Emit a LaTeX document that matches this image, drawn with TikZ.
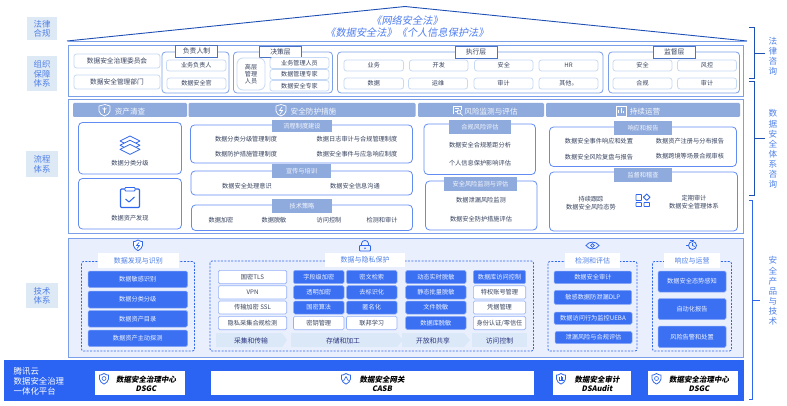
\documentclass[tikz,border=0pt]{standalone}
\usepackage{fontspec}
\setmainfont{Noto Sans CJK SC}
\newfontfamily\slantcjk[FakeSlant=0.18]{Noto Sans CJK SC}
\definecolor{frameblue}{HTML}{7C9FEA}
\definecolor{inkblue}{HTML}{2F66EE}
\definecolor{deepblue}{HTML}{1E50B4}
\definecolor{bandblue}{HTML}{2B63F2}
\definecolor{headblue}{HTML}{8FAADD}
\definecolor{labelbg}{HTML}{DEE9F6}
\definecolor{labelink}{HTML}{4F80E6}
\definecolor{tagedge}{HTML}{C6D9F5}
\definecolor{bodyink}{HTML}{36425E}
\definecolor{techbg}{HTML}{E9EFFD}
\definecolor{btnblue}{HTML}{3C70F3}
\definecolor{hazeblue}{HTML}{DBE8F8}
\newcommand{\fs}[1]{\fontsize{#1}{#1}\selectfont}
\tikzset{
  sidelabel/.style={fill=labelbg,draw=none},
  sidetxt/.style={text=labelink,font=\fs{8.4},align=center,inner sep=0pt,text depth=0pt},
  frame/.style={draw=frameblue,line width=.9pt},
  tagbox/.style={draw=tagedge,line width=.8pt,fill=white,rounded corners=2.5pt},
  tagtxt/.style={text=bodyink,font=\fs{6.1},align=center,inner sep=0pt},
  bigtagtxt/.style={text=bodyink,font=\fs{6.7},align=center,inner sep=0pt},
  groupbox/.style={draw=frameblue,line width=.8pt,fill=white,rounded corners=3.5pt},
  titlebox/.style={draw=deepblue!80!white,line width=.9pt,fill=white},
  titletxt/.style={text=bodyink,font=\fs{6.8},inner sep=0pt},
  headbar/.style={fill=headblue,draw=none,rounded corners=1.2pt},
  headtxt/.style={text=white!92!headblue,font=\fs{7.6},inner sep=0pt},
  subhead/.style={fill=headblue,draw=none},
  subtxt/.style={text=white!92!headblue,font=\fs{6.2},inner sep=0pt},
  roundpanel/.style={draw=inkblue!75!white,line width=.8pt,fill=white,rounded corners=4pt},
  dashpanel/.style={draw=inkblue,line width=.8pt,dash pattern=on 2pt off 1.4pt,rounded corners=2pt},
  whitetitle/.style={fill=white,draw=none},
  paneltitle/.style={text=labelink,font=\fs{7},inner sep=0pt},
  bluebtn/.style={fill=btnblue,draw=btnblue!60!white,line width=.5pt,rounded corners=1.5pt},
  btntxt/.style={text=white!92!btnblue,font=\fs{6.2},inner sep=0pt},
  whitebtn/.style={fill=white,draw=btnblue!55!white,line width=.6pt,rounded corners=1.5pt},
  whitebtntxt/.style={text=bodyink,font=\fs{6.2},inner sep=0pt},
  haze/.style={fill=hazeblue,draw=none},
  hazetxt/.style={text=bodyink!80!blue,font=\fs{6.8},inner sep=0pt},
  productbox/.style={fill=white,draw=none},
  producttxt/.style={text=black,font=\slantcjk\bfseries\fs{7.5},align=center,inner sep=0pt},
  brace/.style={draw=deepblue,line width=.9pt},
  plainline/.style={text=bodyink,font=\fs{6.2},align=center,inner sep=0pt},
  iconline/.style={draw=inkblue,line width=.8pt,line join=round,fill=none},
}
% box with centred caption: box style, text style, x1, y1, x2, y2, caption
\newcommand{\bx}[7]{\path[#1] (#3,#4) rectangle (#5,#6);
  \node[#2] at ({(#3+#5)/2},{(#4+#6)/2}) {#7};}
% shield outline at a position with a given half width
\newcommand{\shield}[4][inkblue]{\draw[draw=#1,line width=.8pt,fill=white,line join=round]
  (#2,#3-#4*1.1) .. controls (#2+#4*.5,#3-#4*.75) and (#2+#4*.8,#3-#4*.8) .. (#2+#4,#3-#4*.75)
  -- (#2+#4,#3+#4*.1) .. controls (#2+#4,#3+#4*.7) and (#2+#4*.4,#3+#4) .. (#2,#3+#4*1.25)
  .. controls (#2-#4*.4,#3+#4) and (#2-#4,#3+#4*.7) .. (#2-#4,#3+#4*.1)
  -- (#2-#4,#3-#4*.75) .. controls (#2-#4*.8,#3-#4*.8) and (#2-#4*.5,#3-#4*.75) .. cycle;}
\begin{document}
\begin{tikzpicture}[x=1pt,y=-1pt]
\useasboundingbox (0,0) rectangle (787,406);

% legal basis: the roof and its two lines of statute titles
\draw[deepblue,line width=.9pt] (67,41) -- (405,6.5) -- (747,41);
\draw[frameblue,line width=.9pt] (68,41) -- (747,41);
\node[text=inkblue!85!white,font=\slantcjk\fs{10.2},inner sep=0pt] (lawa) at (407,20.5) {《网络安全法》};
\node[text=inkblue!85!white,font=\slantcjk\fs{10.2},inner sep=0pt] (lawb) at (407,32.5) {《数据安全法》《个人信息保护法》};

% row captions on the left
\bx{sidelabel}{sidetxt}{27}{17}{57}{40}{法律\\[1pt]合规}
\bx{sidelabel}{sidetxt}{27}{56}{57}{91}{组织\\[1pt]保障\\[1pt]体系}
\bx{sidelabel}{sidetxt}{26}{151}{58}{177}{流程\\[1pt]体系}
\bx{sidelabel}{sidetxt}{26}{283}{58}{308}{技术\\[1pt]体系}

% main frames
\path[frame,fill=white] (68.5,45.7) rectangle (743.5,96);
\path[frame,fill=white] (68.5,99.3) rectangle (743.5,233.5);
\path[frame,fill=techbg] (68.5,238) rectangle (743.5,357);

% organisation row
\bx{tagbox}{bigtagtxt}{74}{54}{160}{68}{数据安全治理委员会}
\bx{tagbox}{bigtagtxt}{74}{75}{160}{89}{数据安全管理部门}

\path[groupbox] (162,52) rectangle (229,93);
\bx{titlebox}{titletxt}{175.5}{45.5}{217.5}{57}{负责人制}
\bx{tagbox}{tagtxt}{166.5}{60}{226}{71}{业务负责人}
\bx{tagbox}{tagtxt}{167}{78}{226}{89}{数据安全官}

\path[groupbox] (233.5,52) rectangle (332.5,93);
\bx{titlebox}{titletxt}{259.5}{46}{301.5}{57.5}{决策层}
\path[tagbox,rounded corners=6pt] (237,58) rectangle (265,90);
\node[tagtxt] (seniors) at (251,74) {高层\\[1pt]管理\\[1pt]人员};
\bx{tagbox}{tagtxt}{270}{57.5}{329}{68.5}{业务管理人员}
\bx{tagbox}{tagtxt}{270}{69.5}{329}{79.5}{数据管理专家}
\bx{tagbox}{tagtxt}{270}{80.5}{329}{91}{数据安全专家}

\path[groupbox] (337.5,52) rectangle (603,93);
\bx{titlebox}{titletxt}{455}{46}{497}{58}{执行层}
\bx{tagbox}{tagtxt}{344}{60}{403.5}{71}{业务}
\bx{tagbox}{tagtxt}{409.5}{60}{468}{71}{开发}
\bx{tagbox}{tagtxt}{474.5}{60}{533}{71}{安全}
\bx{tagbox}{tagtxt}{539}{60}{598}{71}{HR}
\bx{tagbox}{tagtxt}{344}{78}{403.5}{89}{数据}
\bx{tagbox}{tagtxt}{408.5}{78}{467.5}{89}{运维}
\bx{tagbox}{tagtxt}{474}{78}{533}{89}{审计}
\bx{tagbox}{tagtxt}{539}{78}{598}{89}{其他。}

\path[groupbox] (608.5,52) rectangle (739.5,93);
\bx{titlebox}{titletxt}{653.5}{46}{695}{58}{监督层}
\bx{tagbox}{tagtxt}{613}{60}{672}{71}{安全}
\bx{tagbox}{tagtxt}{677.5}{60}{736.5}{71}{风控}
\bx{tagbox}{tagtxt}{613}{78}{672}{89}{合规}
\bx{tagbox}{tagtxt}{677.5}{78}{736.5}{89}{审计}

% process row: header bars
\path[headbar] (73,103) rectangle (187,117);
\node[headtxt] (hasset) at (130,112) {资产清查};
\path[headbar] (188.5,103) rectangle (415.5,117);
\node[headtxt] (hprotect) at (313.5,112) {安全防护措施};
\path[headbar] (418,103) rectangle (544,117);
\node[headtxt] (hrisk) at (491,112) {风险监测与评估};
\path[headbar] (546,103) rectangle (740,117);
\node[headtxt] (hops) at (645,112) {持续运营};

% small white marks inside the header bars
\begin{scope}[line width=.7pt]
\path[draw=white,fill=none,line join=round] (99,106) -- (105,104.5) -- (110,106) -- (110,111) .. controls (110,113.5) and (107,115) .. (104.5,116) .. controls (102,115) and (99,113.5) .. (99,111) -- cycle;
\draw[white] (104.5,107.5) -- (104.5,113) (102.5,108) -- (104.5,110) -- (106.5,108);
\path[draw=white,fill=none,line join=round] (276,106) -- (281,104.5) -- (286,106) -- (286,111) .. controls (286,113.5) and (283.5,115) .. (281,116) .. controls (278.5,115) and (276,113.5) .. (276,111) -- cycle;
\draw[white] (282,107) -- (279.5,110.5) -- (282.5,110.5) -- (280,114);
\draw[white] (453,114.5) -- (453,106) -- (461,106) -- (461,110) (455,108.5) -- (459,108.5) (455,111) -- (458,111);
\draw[white] (459,112) circle (2) (460.5,113.5) -- (462.5,115.5);
\draw[white] (616,106.5) rectangle (626,116) (618.5,113.5) -- (618.5,110.5) (621,113.5) -- (621,108.5) (623.5,113.5) -- (623.5,111);
\end{scope}

% asset inventory cards
\path[roundpanel] (78.5,122.5) rectangle (181.5,174);
\path[roundpanel] (78.5,178.5) rectangle (181.5,229);
\node[plainline] (catcap) at (130,163) {数据分类分级};
\node[plainline] (findcap) at (130,218.5) {数据资产发现};
\begin{scope}[iconline]
\foreach \dy in {0,4.2,8.4}{
  \path[draw=inkblue,fill=white] (130,136+\dy) -- (140,141+\dy) -- (130,146+\dy) -- (120,141+\dy) -- cycle;
}
\draw[rounded corners=1pt,line width=1.1pt] (120.5,189) rectangle (139.5,207.5);
\path[draw=inkblue,fill=white,rounded corners=.8pt] (125,187.5) rectangle (135,191);
\draw[line width=1pt] (125.5,199) -- (129,202) -- (134.5,197);
\end{scope}

% protection measures
\path[roundpanel] (190.5,125) rectangle (412.5,163);
\bx{subhead}{subtxt}{272}{120}{332}{132}{流程制度建设}
\node[plainline] (m1) at (246,139) {数据分类分级管理制度};
\node[plainline] (m2) at (246,154) {数据防护措施管理制度};
\node[plainline] (m3) at (357,139) {数据日志审计与合规管理制度};
\node[plainline] (m4) at (357,154) {数据安全事件与应急响应制度};

\path[roundpanel] (191,171) rectangle (412.5,195);
\bx{subhead}{subtxt}{272}{164}{331}{178}{宣传与培训}
\node[plainline] (t1) at (247,186) {数据安全处理意识};
\node[plainline] (t2) at (355,186) {数据安全信息沟通};

\path[roundpanel] (191.5,205) rectangle (412.5,230.5);
\bx{subhead}{subtxt}{272}{199}{332}{213}{技术策略}
\node[plainline] (p1) at (221,220) {数据加密};
\node[plainline] (p2) at (274,220) {数据脱敏};
\node[plainline] (p3) at (329,220) {访问控制};
\node[plainline] (p4) at (382,220) {检测和审计};

% risk monitoring
\path[roundpanel] (424,124) rectangle (535.5,174.5);
\bx{subhead}{subtxt}{449}{120}{511}{134}{合规风险评估}
\node[plainline] (r1) at (480,145.5) {数据安全合规差距分析};
\node[plainline] (r2) at (480,163) {个人信息保护影响评估};
\path[roundpanel] (425.5,181) rectangle (537,230);
\bx{subhead}{subtxt}{444}{177}{517}{191}{安全风险监测与评估}
\node[plainline] (r3) at (481,200) {数据泄漏风险监测};
\node[plainline] (r4) at (481,219.5) {数据安全防护措施评估};

% continuous operation
\path[roundpanel] (549.5,127) rectangle (736.5,166.5);
\bx{subhead}{subtxt}{614}{121}{672}{135}{响应和报告}
\node[plainline] (o1) at (599,141) {数据安全事件响应和处置};
\node[plainline] (o2) at (599,157) {数据安全风险复盘与报告};
\node[plainline] (o3) at (690,141) {数据资产注册与分布报告};
\node[plainline] (o4) at (690,156) {数据跨境等场景合规审核};
\path[roundpanel] (549.5,172) rectangle (737.5,231);
\bx{subhead}{subtxt}{614}{168}{672}{182}{监督和稽查}
\node[plainline] (o5) at (591,203) {持续跟踪\\[1.5pt]数据安全风险态势};
\node[plainline] (o6) at (694,202) {定期审计\\[1.5pt]数据安全管理体系};
\begin{scope}[iconline,line width=.9pt]
\draw[rounded corners=.6pt] (636,194.5) rectangle (641.5,200.5);
\draw[rounded corners=.6pt] (636,202.5) rectangle (641.5,206.5);
\draw[rounded corners=.6pt] (644,202.5) rectangle (649.5,206.5);
\draw (646.7,194) -- (650,197.2) -- (646.7,200.4) -- (643.4,197.2) -- cycle;
\end{scope}

% technology row: dashed groups with white captions
\path[dashpanel] (81.5,261.5) rectangle (194.5,351);
\bx{whitetitle}{paneltitle}{98}{253}{178.5}{268}{数据发现与识别}
\path[dashpanel] (210,261) rectangle (533.5,351);
\bx{whitetitle}{paneltitle}{325}{253}{405}{267}{数据与隐私保护}
\path[dashpanel] (548,261.5) rectangle (637,351);
\bx{whitetitle}{paneltitle}{565}{253}{620}{268}{检测和评估}
\path[dashpanel] (652.5,261.5) rectangle (731.5,351);
\bx{whitetitle}{paneltitle}{664}{253}{720}{268}{响应与运营}

% row icons above the captions
\shield{138}{245}{4.5}
\draw[inkblue,line width=.7pt] (139,242.5) -- (136.5,245.5) -- (139.5,245.5) -- (137,248.5);
\draw[inkblue,line width=.8pt,rounded corners=.8pt] (359.5,245.5) rectangle (370.5,251);
\draw[inkblue,line width=.8pt] (361.5,245.5) -- (361.5,243.5) .. controls (361.5,239.5) and (368.5,239.5) .. (368.5,243.5) -- (368.5,245.5);
\fill[inkblue] (365,248.2) circle (.9);
\draw[inkblue,line width=.8pt] (586,245.5) .. controls (589,241) and (596,241) .. (599,245.5) .. controls (596,250) and (589,250) .. (586,245.5) -- cycle;
\draw[inkblue,line width=.8pt] (592.5,245.5) circle (1.9);
\draw[inkblue,line width=.8pt] (692.5,245.5) circle (4);
\draw[inkblue,line width=.7pt] (692.5,243) -- (692.5,245.5) -- (694.7,246.5);
\draw[inkblue,line width=1pt] (686,245) -- (689,245) (690,240.5) -- (694,240.5);

% discovery buttons
\bx{bluebtn}{btntxt}{88}{271}{187.5}{287.5}{数据敏感识别}
\bx{bluebtn}{btntxt}{88}{291}{187.5}{308}{数据分类分级}
\bx{bluebtn}{btntxt}{88}{310.5}{187.5}{327}{数据资产目录}
\bx{bluebtn}{btntxt}{88}{330}{187.5}{346.5}{数据资产主动探测}

% protection matrix
\bx{whitebtn}{whitebtntxt}{218.3}{270.3}{286.7}{283.7}{国密TLS}
\bx{whitebtn}{whitebtntxt}{218.3}{285.7}{286.7}{299}{VPN}
\bx{whitebtn}{whitebtntxt}{218.3}{301}{286.7}{314}{传输加密 SSL}
\bx{whitebtn}{whitebtntxt}{218.3}{316.3}{286.7}{329.7}{隐私采集合规检测}
\bx{bluebtn}{btntxt}{293.5}{270.3}{344}{283.7}{字段级加密}
\bx{bluebtn}{btntxt}{293.5}{285.7}{344}{299}{透明加密}
\bx{bluebtn}{btntxt}{293.5}{301}{344}{314}{国密算法}
\bx{whitebtn}{whitebtntxt}{293.5}{316.3}{344}{329.7}{密钥管理}
\bx{bluebtn}{btntxt}{346.5}{270.3}{397}{283.7}{密文检索}
\bx{bluebtn}{btntxt}{346.5}{285.7}{397}{299}{去标识化}
\bx{bluebtn}{btntxt}{346.5}{301}{397}{314}{匿名化}
\bx{whitebtn}{whitebtntxt}{346.5}{316.3}{397}{329.7}{联邦学习}
\bx{bluebtn}{btntxt}{405.7}{270.3}{466}{283.7}{动态实时脱敏}
\bx{bluebtn}{btntxt}{405.7}{285.7}{466}{299}{静态批量脱敏}
\bx{bluebtn}{btntxt}{405.7}{301}{466}{314}{文件脱敏}
\bx{bluebtn}{btntxt}{405.7}{316.3}{466}{329.7}{数据库脱敏}
\bx{bluebtn}{btntxt}{473.3}{270.3}{525.7}{283.7}{数据库访问控制}
\bx{whitebtn}{whitebtntxt}{473.3}{285.7}{525.7}{299}{特权账号管理}
\bx{whitebtn}{whitebtntxt}{473.3}{301}{525.7}{314}{凭据管理}
\bx{whitebtn}{whitebtntxt}{473.3}{316.3}{525.7}{329.7}{身份认证/零信任}

% lifecycle stages below the matrix
\fill[haze] (216,333) -- (282,333) -- (287,340) -- (282,347) -- (216,347) -- cycle;
\node[hazetxt] (s1) at (251,340.5) {采集和传输};
\fill[haze] (291,333) -- (397,333) -- (403,340) -- (397,347) -- (291,347) -- cycle;
\node[hazetxt] (s2) at (343,340.5) {存储和加工};
\fill[haze] (402,333) -- (464,333) -- (470,340) -- (464,347) -- (402,347) -- cycle;
\node[hazetxt] (s3) at (433,340.5) {开放和共享};
\fill[haze] (472,333) -- (527,333) -- (527,347) -- (472,347) -- cycle;
\node[hazetxt] (s4) at (499.5,340.5) {访问控制};

% detection and response buttons
\bx{bluebtn}{btntxt}{554}{271}{631.7}{283.7}{数据安全审计}
\bx{bluebtn}{btntxt}{554}{290.3}{631.7}{304.3}{敏感数据防泄漏DLP}
\bx{bluebtn}{btntxt}{554}{312}{632}{324.3}{数据访问行为监控UEBA}
\bx{bluebtn}{btntxt}{555}{331.3}{632}{343.7}{泄漏风险与合规评估}
\bx{bluebtn}{btntxt}{658}{271}{726}{292}{数据安全态势感知}
\bx{bluebtn}{btntxt}{658}{298.5}{726}{319.5}{自动化报告}
\bx{bluebtn}{btntxt}{658}{326}{726}{347.5}{风险告警和处置}

% platform band and products
\fill[bandblue] (4,360) rectangle (743.5,400.7);
\node[text=white,font=\fs{8.4},align=left,anchor=west,inner sep=0pt] (platform) at (13.5,381.5) {腾讯云\\[1.4pt]数据安全治理\\[1.4pt]一体化平台};
\path[productbox] (95,371) rectangle (185,395);
\path[productbox] (211,371) rectangle (534,395);
\path[productbox] (553,371) rectangle (631,395);
\path[productbox] (648,371) rectangle (738,395);
\node[producttxt] (dsgca) at (146,383.5) {数据安全治理中心\\[1.3pt]DSGC};
\node[producttxt] (casb) at (382,383.5) {数据安全网关\\[1.3pt]CASB};
\node[producttxt] (audit) at (597,383.5) {数据安全审计\\[1.3pt]DSAudit};
\node[producttxt] (dsgcb) at (699,383.5) {数据安全治理中心\\[1.3pt]DSGC};
\shield{104}{378.5}{4.5}
\draw[inkblue,line width=.6pt] (104,378.5) circle (2);
\shield{346}{378.5}{4.5}
\draw[inkblue,line width=.6pt] (343.5,381) -- (346,376.5) -- (348.5,381);
\shield{561}{378.5}{4.5}
\draw[inkblue,line width=.6pt] (558.5,380) -- (563.5,380) (559.5,380) -- (559.5,377) (561,380) -- (561,376) (562.5,380) -- (562.5,377);
\shield{656.5}{378.5}{4.5}
\draw[inkblue,line width=.6pt] (656.5,378.5) circle (2);

% brackets on the right and their captions
\draw[brace] (749,27.3) -- (754.3,27.3) -- (754.3,78) -- (749,78);
\draw[brace] (754.3,53) -- (765,53);
\draw[brace] (749,81) -- (754.3,81) -- (754.3,195) -- (749,195);
\draw[brace] (754.3,138) -- (765,138);
\draw[draw=inkblue,line width=1pt] (749,201) -- (752.8,201) -- (752.8,399) -- (749,399);
\draw[draw=inkblue,line width=1pt] (752.8,300) -- (760,300);
\node[text=labelink,font=\fs{8.6},align=center,inner sep=0pt] (ca) at (773,56) {法\\[1.5pt]律\\[1.5pt]咨\\[1.5pt]询};
\node[text=labelink,font=\fs{8.6},align=center,inner sep=0pt] (cb) at (773,149) {数\\[1.5pt]据\\[1.5pt]安\\[1.5pt]全\\[1.5pt]体\\[1.5pt]系\\[1.5pt]咨\\[1.5pt]询};
\node[text=labelink,font=\fs{8.6},align=center,inner sep=0pt] (cc) at (773,291) {安\\[1.5pt]全\\[1.5pt]产\\[1.5pt]品\\[1.5pt]与\\[1.5pt]技\\[1.5pt]术};
\end{tikzpicture}
\end{document}
